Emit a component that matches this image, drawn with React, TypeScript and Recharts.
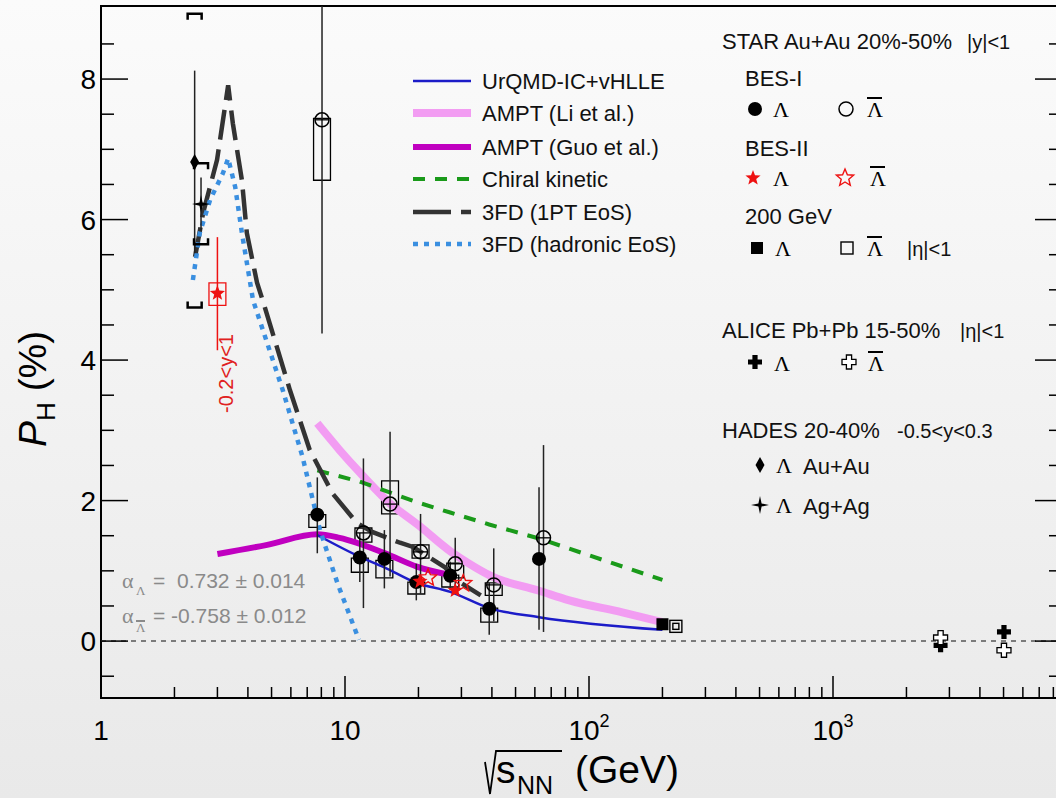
import React from 'react'
import {
  ComposedChart,
  Line,
  Scatter,
  XAxis,
  YAxis,
  ErrorBar,
  ReferenceArea,
  ReferenceLine,
} from 'recharts'

const FONT = '"Liberation Sans", Arial, sans-serif'
const SERIF = '"Liberation Serif", "Times New Roman", serif'

const XMIN = 1
const XMAX = 8680
const YMIN = -0.81
const YMAX = 9.04
const BOX = 1.083 // half width of a systematic box, as a factor on the log axis

const X_TICKS = [
  1, 2, 3, 4, 5, 6, 7, 8, 9,
  10, 20, 30, 40, 50, 60, 70, 80, 90,
  100, 200, 300, 400, 500, 600, 700, 800, 900,
  1000, 2000, 3000, 4000, 5000, 6000, 7000, 8000,
]
const Y_TICKS = [-0.5, 0, 0.5, 1, 1.5, 2, 2.5, 3, 3.5, 4, 4.5, 5, 5.5, 6, 6.5, 7, 7.5, 8, 8.5]

// STAR BES-I, Lambda
const lamE = [7.7, 11.5, 14.5, 19.6, 27, 39, 62.4]
const lamP = [1.8, 1.19, 1.17, 0.84, 0.93, 0.46, 1.17]
const lamStat = [[0.55, 0.53], [0.35, 0.35], [0.42, 0.41], [0.26, 0.26], [0.2, 0.2], [0.37, 0.37], [1.01, 1.02]]
const lamSys = [[1.62, 1.8], [0.98, 1.18], [0.9, 1.15], [0.67, 0.84], [0.77, 0.94], [0.27, 0.47]]

// STAR BES-I, anti-Lambda (drawn a little to the right)
const alamE = [8.05, 11.9, 15.3, 20.4, 28.3, 40.7, 65.1]
const alamP = [7.42, 1.54, 1.95, 1.27, 1.1, 0.8, 1.47]
const alamStat = [[3.04, 1.62], [1.07, 1.06], [1.03, 1.03], [0.6, 0.54], [0.4, 0.37], [0.52, 0.52], [1.34, 1.32]]
const alamSys = [[6.56, 7.44], [1.41, 1.61], [1.81, 2.28], [1.18, 1.37], [0.9, 1.11], [0.65, 0.83]]

// STAR BES-II
const bes2LamE = [20.3, 28.3]
const bes2LamP = [0.85, 0.72]
const bes2AlamE = [21.9, 30.5]
const bes2AlamP = [0.9, 0.82]

// STAR fixed target 3 GeV, -0.2<y<1
const ftE = [3.0]
const ftP = [4.95]
const ftStat = [[0.81, 0.8]]
const ftSys = [[4.78, 5.1]]

// STAR 200 GeV
const rhicLamE = [200]
const rhicLamP = [0.24]
const rhicAlamE = [227]
const rhicAlamP = [0.21]

// ALICE
const aliceLamE = [2760, 5020]
const aliceLamP = [-0.06, 0.13]
const aliceAlamE = [2760, 5020]
const aliceAlamP = [0.05, -0.13]

// HADES
const hadesAuE = [2.42]
const hadesAuP = [6.82]
const hadesAuStat = [[1.3, 1.3]]
const hadesAuSysLo = [4.75]
const hadesAuSysHi = [8.93]
const hadesAgE = [2.57]
const hadesAgP = [6.22]
const hadesAgStat = [[0.38, 0.38]]
const hadesAgSysLo = [5.65]
const hadesAgSysHi = [6.8]

// model curves
const urqmdE = [7.7, 11.5, 14.5, 19.6, 27, 39, 62.4, 200]
const urqmdP = [1.51, 1.2, 1.05, 0.83, 0.7, 0.47, 0.34, 0.16]
const amptLiE = [7.7, 9.5, 11.5, 15.3, 20, 27, 32, 40, 62, 83, 137, 200]
const amptLiP = [3.1, 2.72, 2.4, 1.96, 1.65, 1.28, 1.11, 0.92, 0.72, 0.58, 0.41, 0.27]
const amptGuoE = [3.0, 4.8, 7.7, 9.5, 14.6, 19.7, 27]
const amptGuoP = [1.24, 1.37, 1.52, 1.47, 1.25, 1.06, 0.94]
const chiralE = [7.7, 11.5, 19.6, 27, 39, 62.4, 200]
const chiralP = [2.43, 2.27, 1.98, 1.83, 1.66, 1.46, 0.87]
const fd1ptE = [2.43, 2.62, 2.99, 3.32, 3.47, 3.78, 3.96, 4.36, 4.6, 5.95, 7.17, 8.9, 11.2, 13, 16.8, 19, 25.7, 29.5, 36]
const fd1ptP = [5.47, 6.09, 6.85, 7.91, 7.37, 6.56, 5.81, 5.1, 4.85, 3.57, 2.72, 2.1, 1.68, 1.55, 1.4, 1.34, 1.05, 0.84, 0.65]
const fdHadE = [2.38, 2.54, 2.8, 3.16, 3.32, 3.55, 3.78, 4.2, 5.56, 6.7, 7.9, 9.3, 11.4]
const fdHadP = [5.14, 5.81, 6.28, 6.66, 6.87, 6.46, 5.81, 4.85, 3.57, 2.62, 1.58, 0.83, 0.02]

const pts = (xs: number[], ys: number[], err?: number[][]) =>
  xs.map((x, i) => (err ? { x, y: ys[i], err: err[i] } : { x, y: ys[i] }))

// ---------- marker shapes ----------
function starD(cx: number, cy: number, R: number, r: number, n = 5) {
  let d = ''
  for (let i = 0; i < n * 2; i++) {
    const a = -Math.PI / 2 + (i * Math.PI) / n
    const rad = i % 2 === 0 ? R : r
    d += (i === 0 ? 'M' : 'L') + (cx + rad * Math.cos(a)).toFixed(1) + ' ' + (cy + rad * Math.sin(a)).toFixed(1)
  }
  return d + 'Z'
}
function crossD(cx: number, cy: number, a: number, b: number) {
  return `M${cx - b} ${cy - a}H${cx + b}V${cy - b}H${cx + a}V${cy + b}H${cx + b}V${cy + a}H${cx - b}V${cy + b}H${cx - a}V${cy - b}H${cx - b}Z`
}

const DotShape = (p: any) => <circle cx={p.cx} cy={p.cy} r={7} fill="#000" />
const RingShape = (p: any) => (
  <g>
    <circle cx={p.cx} cy={p.cy} r={7} fill="none" stroke="#000" strokeWidth={1.5} />
    <line x1={p.cx - 7} x2={p.cx + 7} y1={p.cy} y2={p.cy} stroke="#000" strokeWidth={1.3} />
  </g>
)
const RingPlain = (p: any) => <circle cx={p.cx} cy={p.cy} r={7} fill="none" stroke="#000" strokeWidth={1.5} />
const StarF = (p: any) => <path d={starD(p.cx, p.cy, 8, 3.4)} fill="#ee1111" />
const StarO = (p: any) => <path d={starD(p.cx, p.cy, 9, 4)} fill="none" stroke="#ee1111" strokeWidth={1.4} />
const SquareF = (p: any) => <rect x={p.cx - 6} y={p.cy - 6} width={12} height={12} fill="#000" />
const SquareO = (p: any) => (
  <g fill="none" stroke="#000" strokeWidth={1.4}>
    <rect x={p.cx - 6} y={p.cy - 6} width={12} height={12} />
    <rect x={p.cx - 3} y={p.cy - 3} width={6} height={6} />
  </g>
)
const CrossF = (p: any) => <path d={crossD(p.cx, p.cy, 7, 2.6)} fill="#000" />
const CrossO = (p: any) => <path d={crossD(p.cx, p.cy, 7, 2.6)} fill="#fff" stroke="#000" strokeWidth={1.3} />
const DiamondF = (p: any) => (
  <path d={`M${p.cx} ${p.cy - 8}L${p.cx + 4.5} ${p.cy}L${p.cx} ${p.cy + 8}L${p.cx - 4.5} ${p.cy}Z`} fill="#000" />
)
const Star4 = (p: any) => <path d={starD(p.cx, p.cy, 9, 2.2, 4)} fill="#000" />
const BracketTop = (p: any) => (
  <path d={`M${p.cx - 7} ${p.cy + 6}V${p.cy}H${p.cx + 7}V${p.cy + 6}`} fill="none" stroke="#000" strokeWidth={2.5} />
)
const BracketBot = (p: any) => (
  <path d={`M${p.cx - 7} ${p.cy - 6}V${p.cy}H${p.cx + 7}V${p.cy - 6}`} fill="none" stroke="#000" strokeWidth={2.5} />
)

// ---------- axis ticks (ROOT style, pointing into the frame) ----------
const isDecade = (v: number) => Math.abs(Math.log10(v) - Math.round(Math.log10(v))) < 1e-6

function XTick(props: any) {
  const { x, y, payload } = props
  const v = payload.value
  const major = isDecade(v)
  const exp = Math.round(Math.log10(v))
  return (
    <g>
      <line x1={x} x2={x} y1={y} y2={y - (major ? 22 : 11)} stroke="#000" strokeWidth={1.5} />
      {major && (
        <text x={x} y={y + 42} textAnchor="middle" fontSize={28} fontFamily={FONT} fill="#000">
          {exp <= 1 ? String(v) : '10'}
          {exp > 1 && (
            <tspan fontSize={18} dy={-13}>
              {exp}
            </tspan>
          )}
        </text>
      )}
    </g>
  )
}

function YTick(props: any) {
  const { x, y, payload } = props
  const v = payload.value
  const major = Math.abs(v / 2 - Math.round(v / 2)) < 1e-6
  return (
    <g>
      <line x1={x} x2={x + (major ? 27 : 13)} y1={y} y2={y} stroke="#000" strokeWidth={1.5} />
      {major && (
        <text x={x - 5} y={y + 10} textAnchor="end" fontSize={28} fontFamily={FONT} fill="#000">
          {v}
        </text>
      )}
    </g>
  )
}

function YTickRight(props: any) {
  const { x, y, payload } = props
  const v = payload.value
  const major = Math.abs(v / 2 - Math.round(v / 2)) < 1e-6
  return <line x1={x} x2={x - (major ? 27 : 13)} y1={y} y2={y} stroke="#000" strokeWidth={1.5} />
}

// ---------- legends drawn on top ----------
const MODELS = [
  { label: 'UrQMD-IC+vHLLE', color: '#1c1cc8', w: 2.5, dash: undefined },
  { label: 'AMPT (Li et al.)', color: '#f29cf2', w: 8, dash: undefined },
  { label: 'AMPT (Guo et al.)', color: '#c000c0', w: 6, dash: undefined },
  { label: 'Chiral kinetic', color: '#1a9a1a', w: 4, dash: '12 10' },
  { label: '3FD (1PT EoS)', color: '#333333', w: 4.5, dash: '38 10' },
  { label: '3FD (hadronic EoS)', color: '#3a8fe0', w: 4.5, dash: '5 6' },
]
const MODEL_ROW_Y = [81, 113, 147, 179, 212, 244]

function Lam({ x, y, bar }: { x: number; y: number; bar?: boolean }) {
  return (
    <g>
      <text x={x} y={y} fontSize={22} fontFamily={SERIF} fill="#000">
        Λ
      </text>
      {bar && <line x1={x} x2={x + 15} y1={y - 19} y2={y - 19} stroke="#000" strokeWidth={2} />}
    </g>
  )
}

function Overlay() {
  return (
    <svg
      width={1056}
      height={798}
      style={{ position: 'absolute', left: 0, top: 0, pointerEvents: 'none' }}
      fontFamily={FONT}
    >
      {/* model legend */}
      {MODELS.map((m, i) => (
        <g key={m.label}>
          <line x1={413} x2={471} y1={MODEL_ROW_Y[i]} y2={MODEL_ROW_Y[i]} stroke={m.color} strokeWidth={m.w} strokeDasharray={m.dash} />
          <text x={482} y={MODEL_ROW_Y[i] + 8} fontSize={22} fill="#111">
            {m.label}
          </text>
        </g>
      ))}

      {/* data legend */}
      <text x={722} y={49} fontSize={22} fill="#111">STAR Au+Au 20%-50%</text>
      <text x={967} y={49} fontSize={20} fill="#111">|y|&lt;1</text>
      <text x={745} y={86} fontSize={22} fill="#111">BES-I</text>
      <DotShape cx={755} cy={109} />
      <Lam x={773} y={117} />
      <RingPlain cx={846} cy={109} />
      <Lam x={867} y={117} bar />
      <text x={745} y={156} fontSize={22} fill="#111">BES-II</text>
      <StarF cx={753} cy={178} />
      <Lam x={773} y={186} />
      <StarO cx={845} cy={178} />
      <Lam x={870} y={186} bar />
      <text x={745} y={224} fontSize={22} fill="#111">200 GeV</text>
      <SquareF cx={757} cy={248} />
      <Lam x={775} y={256} />
      <g fill="none" stroke="#000" strokeWidth={1.4}>
        <rect x={841} y={242} width={12} height={12} />
      </g>
      <Lam x={867} y={256} bar />
      <text x={907} y={256} fontSize={20} fill="#111">|η|&lt;1</text>

      <text x={722} y={338} fontSize={22} fill="#111">ALICE Pb+Pb 15-50%</text>
      <text x={960} y={338} fontSize={20} fill="#111">|η|&lt;1</text>
      <CrossF cx={755} cy={362} />
      <Lam x={774} y={371} />
      <CrossO cx={849} cy={362} />
      <Lam x={868} y={371} bar />

      <text x={722} y={438} fontSize={22} fill="#111">HADES 20-40%</text>
      <text x={897} y={438} fontSize={20} fill="#111">-0.5&lt;y&lt;0.3</text>
      <DiamondF cx={760} cy={465} />
      <Lam x={776} y={473} />
      <text x={803} y={474} fontSize={22} fill="#111">Au+Au</text>
      <Star4 cx={760} cy={505} />
      <Lam x={776} y={513} />
      <text x={803} y={514} fontSize={22} fill="#111">Ag+Ag</text>

      {/* decay parameters */}
      <g fill="#8a8a8a" fontSize={21}>
        <text x={122} y={588} fontFamily={SERIF} fontSize={22}>α</text>
        <text x={136} y={595} fontFamily={SERIF} fontSize={13}>Λ</text>
        <text x={153} y={588}>=</text>
        <text x={177} y={588}>0.732 ± 0.014</text>
        <text x={122} y={623} fontFamily={SERIF} fontSize={22}>α</text>
        <text x={136} y={632} fontFamily={SERIF} fontSize={13}>Λ</text>
        <line x1={136} x2={145} y1={621} y2={621} stroke="#8a8a8a" strokeWidth={2} />
        <text x={153} y={623}>= -0.758 ± 0.012</text>
      </g>

      {/* rapidity window of the 3 GeV point */}
      <text transform="translate(233,413) rotate(-90)" fontSize={20} fill="#e02020">
        -0.2&lt;y&lt;1
      </text>

      {/* axis titles */}
      <text transform="translate(46,447) rotate(-90)" fontSize={39} fill="#000">
        <tspan fontStyle="italic">P</tspan>
        <tspan fontSize={26} dy={9}>H</tspan>
        <tspan dy={-9}> (%)</tspan>
      </text>
      <path d="M485 762L490 794L496 751H562" fill="none" stroke="#000" strokeWidth={1.8} />
      <text x={496} y={783} fontSize={39} fill="#000">s</text>
      <text x={517} y={794} fontSize={25} fill="#000">NN</text>
      <text x={575} y={783} fontSize={39} fill="#000">(GeV)</text>
    </svg>
  )
}

export default function App() {
  return (
    <div
      style={{
        position: 'absolute',
        left: 0,
        top: 0,
        width: 1056,
        height: 798,
        overflow: 'hidden',
        background: 'linear-gradient(to bottom, #fbfbfb, #e9e9e9)',
        fontFamily: FONT,
      }}
    >
      <ComposedChart width={1080} height={798} margin={{ top: 6, right: 17, bottom: 99, left: 100 }}>
        <XAxis
          dataKey="x"
          type="number"
          scale="log"
          domain={[XMIN, XMAX]}
          allowDataOverflow
          ticks={X_TICKS}
          interval={0}
          tick={<XTick />}
          tickLine={false}
          tickSize={0}
          tickMargin={0}
          axisLine={false}
          height={1}
        />
        <YAxis
          dataKey="y"
          type="number"
          domain={[YMIN, YMAX]}
          allowDataOverflow
          ticks={Y_TICKS}
          interval={0}
          tick={<YTick />}
          tickLine={false}
          tickSize={0}
          tickMargin={0}
          axisLine={false}
          width={1}
        />
        <YAxis
          yAxisId="r"
          orientation="right"
          type="number"
          domain={[YMIN, YMAX]}
          allowDataOverflow
          ticks={Y_TICKS}
          interval={0}
          tick={<YTickRight />}
          tickLine={false}
          tickSize={0}
          tickMargin={0}
          axisLine={false}
          width={1}
        />

        <ReferenceLine y={0} stroke="#555" strokeWidth={1.5} strokeDasharray="5 5" />

        {/* systematic boxes */}
        {lamSys.map((s, i) => (
          <ReferenceArea key={'ls' + i} x1={lamE[i] / BOX} x2={lamE[i] * BOX} y1={s[0]} y2={s[1]} fill="none" stroke="#000" strokeWidth={1.3} fillOpacity={0} ifOverflow="visible" />
        ))}
        {alamSys.map((s, i) => (
          <ReferenceArea key={'as' + i} x1={alamE[i] / BOX} x2={alamE[i] * BOX} y1={s[0]} y2={s[1]} fill="none" stroke="#000" strokeWidth={1.3} fillOpacity={0} ifOverflow="visible" />
        ))}
        {ftSys.map((s, i) => (
          <ReferenceArea key={'fs' + i} x1={ftE[i] / BOX} x2={ftE[i] * BOX} y1={s[0]} y2={s[1]} fill="none" stroke="#ee1111" strokeWidth={1.3} fillOpacity={0} ifOverflow="visible" />
        ))}

        {/* models */}
        <Line data={pts(amptLiE, amptLiP)} dataKey="y" type="monotone" stroke="#f29cf2" strokeWidth={8} dot={false} isAnimationActive={false} />
        <Line data={pts(amptGuoE, amptGuoP)} dataKey="y" type="monotone" stroke="#c000c0" strokeWidth={6} dot={false} isAnimationActive={false} />
        <Line data={pts(urqmdE, urqmdP)} dataKey="y" type="monotone" stroke="#1c1cc8" strokeWidth={2.5} dot={false} isAnimationActive={false} />
        <Line data={pts(chiralE, chiralP)} dataKey="y" type="linear" stroke="#1a9a1a" strokeWidth={4} strokeDasharray="12 10" dot={false} isAnimationActive={false} />
        <Line data={pts(fd1ptE, fd1ptP)} dataKey="y" type="linear" stroke="#333333" strokeWidth={4.5} strokeDasharray="30 10" dot={false} isAnimationActive={false} />
        <Line data={pts(fdHadE, fdHadP)} dataKey="y" type="linear" stroke="#3a8fe0" strokeWidth={4.5} strokeDasharray="5 6" dot={false} isAnimationActive={false} />

        {/* data */}
        <Scatter data={pts(lamE, lamP, lamStat)} dataKey="y" shape={DotShape} isAnimationActive={false}>
          <ErrorBar dataKey="err" direction="y" width={0} stroke="#222" strokeWidth={1.5} />
        </Scatter>
        <Scatter data={pts(alamE, alamP, alamStat)} dataKey="y" shape={RingShape} isAnimationActive={false}>
          <ErrorBar dataKey="err" direction="y" width={0} stroke="#222" strokeWidth={1.5} />
        </Scatter>
        <Scatter data={pts(ftE, ftP, ftStat)} dataKey="y" shape={StarF} isAnimationActive={false}>
          <ErrorBar dataKey="err" direction="y" width={0} stroke="#ee1111" strokeWidth={1.5} />
        </Scatter>
        <Scatter data={pts(bes2LamE, bes2LamP)} dataKey="y" shape={StarF} isAnimationActive={false} />
        <Scatter data={pts(bes2AlamE, bes2AlamP)} dataKey="y" shape={StarO} isAnimationActive={false} />
        <Scatter data={pts(rhicLamE, rhicLamP)} dataKey="y" shape={SquareF} isAnimationActive={false} />
        <Scatter data={pts(rhicAlamE, rhicAlamP)} dataKey="y" shape={SquareO} isAnimationActive={false} />
        <Scatter data={pts(aliceLamE, aliceLamP)} dataKey="y" shape={CrossF} isAnimationActive={false} />
        <Scatter data={pts(aliceAlamE, aliceAlamP)} dataKey="y" shape={CrossO} isAnimationActive={false} />
        <Scatter data={pts(hadesAuE, hadesAuP, hadesAuStat)} dataKey="y" shape={DiamondF} isAnimationActive={false}>
          <ErrorBar dataKey="err" direction="y" width={0} stroke="#222" strokeWidth={1.5} />
        </Scatter>
        <Scatter data={pts(hadesAgE, hadesAgP, hadesAgStat)} dataKey="y" shape={Star4} isAnimationActive={false}>
          <ErrorBar dataKey="err" direction="y" width={0} stroke="#222" strokeWidth={1.5} />
        </Scatter>
        <Scatter data={pts(hadesAuE, hadesAuSysHi)} dataKey="y" shape={BracketTop} isAnimationActive={false} />
        <Scatter data={pts(hadesAuE, hadesAuSysLo)} dataKey="y" shape={BracketBot} isAnimationActive={false} />
        <Scatter data={pts(hadesAgE, hadesAgSysHi)} dataKey="y" shape={BracketTop} isAnimationActive={false} />
        <Scatter data={pts(hadesAgE, hadesAgSysLo)} dataKey="y" shape={BracketBot} isAnimationActive={false} />

        {/* frame */}
        <ReferenceArea x1={XMIN} x2={XMAX} y1={YMIN} y2={YMAX} fill="none" fillOpacity={0} stroke="#000" strokeWidth={2} ifOverflow="visible" />
      </ComposedChart>
      <Overlay />
    </div>
  )
}
